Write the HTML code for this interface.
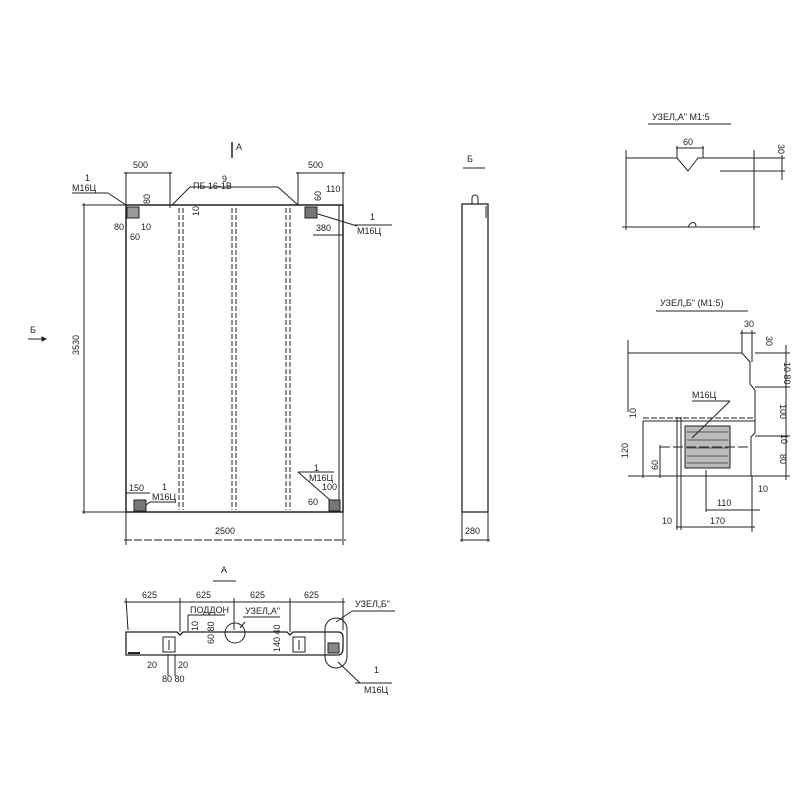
<!DOCTYPE html>
<html><head><meta charset="utf-8"><style>
html,body{margin:0;padding:0;background:#fff}
svg{display:block}
text{font-family:"Liberation Sans",sans-serif;fill:#222;stroke:none;font-size:9px}
</style></head><body>
<svg width="800" height="800" viewBox="0 0 800 800" xmlns="http://www.w3.org/2000/svg" stroke="#222" fill="none" stroke-width="1">
<!-- ===== Main panel ===== -->
<rect x="126" y="205" width="217" height="307" stroke-width="1.5"/>
<line x1="339" y1="205" x2="339" y2="512"/>
<g stroke-dasharray="5,2" stroke-width="1">
<line x1="179" y1="208" x2="179" y2="510"/><line x1="183" y1="208" x2="183" y2="510"/>
<line x1="232" y1="208" x2="232" y2="510"/><line x1="236" y1="208" x2="236" y2="510"/>
<line x1="286" y1="208" x2="286" y2="510"/><line x1="290" y1="208" x2="290" y2="510"/>
</g>
<rect x="127" y="207" width="12" height="11" fill="#999"/>
<rect x="305" y="207" width="12" height="11" fill="#777"/>
<rect x="134" y="500" width="12" height="11" fill="#777"/>
<rect x="329" y="500" width="11" height="11" fill="#777"/>
<line x1="126" y1="172" x2="126" y2="205"/><line x1="170" y1="172" x2="170" y2="208"/>
<line x1="124" y1="173" x2="172" y2="173"/>
<text x="133" y="168">500</text>
<line x1="298" y1="172" x2="298" y2="205"/><line x1="343" y1="172" x2="343" y2="205"/>
<line x1="296" y1="173" x2="345" y2="173"/>
<text x="308" y="168">500</text>
<polyline points="172,205 190,187 278,187 298,205"/>
<text x="222" y="182">9</text>
<text x="193" y="189">ПБ 16-1В</text>
<text x="236" y="150" font-size="10">A</text>
<line x1="232" y1="142" x2="232" y2="158" stroke-width="1.5"/>
<text x="85" y="181">1</text><text x="72" y="191">М16Ц</text>
<line x1="72" y1="193" x2="108" y2="193"/><line x1="108" y1="193" x2="126" y2="205"/>
<text x="140" y="202" transform="rotate(-90 146 198)">80</text>
<text x="114" y="230">80</text><text x="141" y="230">10</text><text x="130" y="240">60</text>
<text x="191" y="216" transform="rotate(-90 195 212)">10</text>
<text x="313" y="203" transform="rotate(-90 316 198)">60</text>
<text x="326" y="192">110</text>
<line x1="313" y1="235" x2="343" y2="235"/>
<text x="316" y="231">380</text>
<line x1="318" y1="214" x2="357" y2="226"/>
<text x="370" y="220">1</text><text x="357" y="234">М16Ц</text>
<line x1="355" y1="225" x2="392" y2="225"/>
<text x="60" y="344" transform="rotate(-90 75 340)">3530</text>
<line x1="82" y1="205" x2="126" y2="205"/><line x1="82" y1="512" x2="126" y2="512"/>
<line x1="84" y1="203" x2="84" y2="514"/>
<text x="30" y="333" font-size="10">Б</text>
<line x1="28" y1="339" x2="42" y2="339"/><polygon points="42,337 46,339 42,341" fill="#222"/>
<text x="129" y="491">150</text><line x1="126" y1="493" x2="150" y2="493"/>
<text x="162" y="490">1</text><text x="152" y="500">М16Ц</text>
<line x1="150" y1="502" x2="176" y2="502"/><line x1="150" y1="502" x2="146" y2="505"/>
<text x="314" y="471">1</text><text x="309" y="481">М16Ц</text>
<polyline points="298,472 334,472"/><line x1="298" y1="472" x2="330" y2="500"/>
<text x="322" y="490">100</text>
<text x="308" y="505" font-size="8">60</text>
<line x1="126" y1="512" x2="126" y2="545"/><line x1="343" y1="512" x2="343" y2="545"/>
<line x1="124" y1="540" x2="346" y2="540" stroke-dasharray="8,2"/>
<text x="215" y="534" font-size="10">2500</text>
<!-- ===== Side view ===== -->
<text x="467" y="162" font-size="11">Б</text><line x1="463" y1="168" x2="485" y2="168"/>
<rect x="462" y="204" width="26" height="308" stroke-width="1.3"/>
<path d="M472,204 v-6 a3,3 0 0 1 6,0 v6"/>
<line x1="486" y1="206" x2="486" y2="218"/>
<line x1="462" y1="512" x2="462" y2="542"/><line x1="488" y1="512" x2="488" y2="542"/>
<line x1="460" y1="540" x2="490" y2="540"/>
<text x="465" y="534" font-size="10">280</text>
<!-- ===== Node A ===== -->
<text x="652" y="120">УЗЕЛ„А" М1:5</text><line x1="648" y1="124" x2="731" y2="124"/>
<polyline points="626,158 677,158 688,171 698,158 754,158"/>
<line x1="626" y1="150" x2="626" y2="230"/><line x1="754" y1="150" x2="754" y2="230"/>
<line x1="622" y1="227" x2="760" y2="227"/>
<path d="M688,227 c3,-6 8,-6 8,0"/>
<line x1="676" y1="148" x2="704" y2="148"/><line x1="677" y1="146" x2="677" y2="158"/><line x1="703" y1="146" x2="703" y2="158"/>
<text x="683" y="145">60</text>
<line x1="754" y1="158" x2="785" y2="158"/><line x1="720" y1="171" x2="785" y2="171"/>
<line x1="782" y1="155" x2="782" y2="180"/>
<text x="772" y="150" transform="rotate(90 778 150)">30</text>
<!-- ===== Node B ===== -->
<text x="660" y="306">УЗЕЛ„Б" (М1:5)</text><line x1="656" y1="311" x2="748" y2="311"/>
<polyline points="628,353 742,353 750,362 750,384 755,390 755,433 751,437 751,476"/>
<line x1="628" y1="340" x2="628" y2="412"/>
<line x1="628" y1="476" x2="755" y2="476"/>
<line x1="643" y1="418" x2="755" y2="418" stroke-dasharray="6,2"/>
<line x1="643" y1="421" x2="755" y2="421"/>
<line x1="677" y1="417" x2="677" y2="530"/><line x1="681" y1="417" x2="681" y2="530"/>
<rect x="685" y="426" width="45" height="42" fill="#bbb" stroke="#222"/>
<g stroke="#555"><line x1="687" y1="432" x2="728" y2="432"/><line x1="687" y1="440" x2="728" y2="440"/><line x1="687" y1="448" x2="728" y2="448"/><line x1="687" y1="456" x2="728" y2="456"/><line x1="687" y1="463" x2="728" y2="463"/></g>
<text x="692" y="398">М16Ц</text>
<line x1="692" y1="401" x2="730" y2="401"/><line x1="730" y1="401" x2="692" y2="438"/>
<line x1="706" y1="470" x2="706" y2="512"/>
<text x="744" y="327">30</text>
<line x1="740" y1="333" x2="756" y2="333"/>
<line x1="742" y1="330" x2="742" y2="353"/><line x1="752" y1="330" x2="752" y2="362"/>
<line x1="755" y1="353" x2="790" y2="353"/><line x1="755" y1="387" x2="790" y2="387"/><line x1="755" y1="436" x2="790" y2="436"/><line x1="755" y1="476" x2="790" y2="476"/>
<line x1="786" y1="345" x2="786" y2="480"/>
<g font-size="8">
<text x="762" y="340" transform="rotate(90 766 340)">30</text>
<text x="772" y="362" transform="rotate(90 778 368)">10 80</text>
<text x="772" y="408" transform="rotate(90 778 410)">100</text>
<text x="772" y="437" transform="rotate(90 778 440)">10</text>
<text x="772" y="458" transform="rotate(90 778 460)">80</text>
<text x="630" y="412" transform="rotate(-90 636 412)">10</text>
<text x="620" y="450" transform="rotate(-90 628 450)">120</text>
<text x="648" y="468" transform="rotate(-90 654 464)">60</text>
</g>
<line x1="643" y1="421" x2="643" y2="478"/><line x1="660" y1="447" x2="750" y2="447" stroke-dasharray="10,3"/>
<line x1="660" y1="445" x2="660" y2="478"/>
<text x="758" y="492" font-size="10">10</text><line x1="752" y1="476" x2="752" y2="532"/>
<text x="717" y="506">110</text><line x1="706" y1="510" x2="760" y2="510"/>
<text x="662" y="524">10</text><text x="710" y="524">170</text>
<line x1="676" y1="527" x2="755" y2="527"/>
<!-- ===== Section A ===== -->
<text x="221" y="573" font-size="11">A</text><line x1="213" y1="581" x2="236" y2="581"/>
<line x1="126" y1="598" x2="128" y2="630"/><line x1="180" y1="598" x2="180" y2="632"/><line x1="234" y1="598" x2="234" y2="630"/><line x1="290" y1="598" x2="290" y2="632"/><line x1="343" y1="598" x2="343" y2="630"/>
<line x1="124" y1="602" x2="345" y2="602"/>
<text x="142" y="598">625</text><text x="196" y="598">625</text><text x="250" y="598">625</text><text x="304" y="598">625</text>
<text x="190" y="613">ПОДДОН</text><line x1="188" y1="615" x2="225" y2="615"/><line x1="188" y1="615" x2="188" y2="631"/>
<text x="245" y="614">УЗЕЛ„А"</text><line x1="243" y1="617" x2="280" y2="617"/><line x1="245" y1="622" x2="240" y2="628"/>
<text x="355" y="607">УЗЕЛ„Б"</text><line x1="352" y1="611" x2="395" y2="611"/><line x1="352" y1="611" x2="336" y2="622"/>
<path d="M126,632 H177 l3,3 l3,-3 H287 l3,3 l3,-3 H338 q5,0 5,5 V648 q0,7 -5,7 H126 Z" stroke-width="1.3"/>
<circle cx="235" cy="633" r="10"/>
<rect x="163" y="637" width="12" height="15"/><line x1="169" y1="640" x2="169" y2="650"/>
<rect x="293" y="637" width="12" height="15"/><line x1="299" y1="640" x2="299" y2="650"/>
<rect x="328" y="643" width="11" height="10" fill="#888"/>
<rect x="325" y="618" width="22" height="50" rx="11"/>
<line x1="128" y1="653" x2="140" y2="653" stroke-width="2"/>
<line x1="338" y1="662" x2="360" y2="683"/><line x1="355" y1="683" x2="392" y2="683"/>
<text x="374" y="673">1</text><text x="364" y="693">М16Ц</text>
<g font-size="8">
<text x="190" y="633" transform="rotate(-90 193 628)">10</text>
<text x="202" y="648" transform="rotate(-90 206 640)">60 80</text>
<text x="264" y="656" transform="rotate(-90 270 646)">140 40</text>
<text x="147" y="668">20</text><text x="178" y="668">20</text>
<text x="162" y="682">80 80</text>
</g>
<line x1="168" y1="655" x2="168" y2="676"/><line x1="175" y1="655" x2="175" y2="676"/>
</svg>
</body></html>
